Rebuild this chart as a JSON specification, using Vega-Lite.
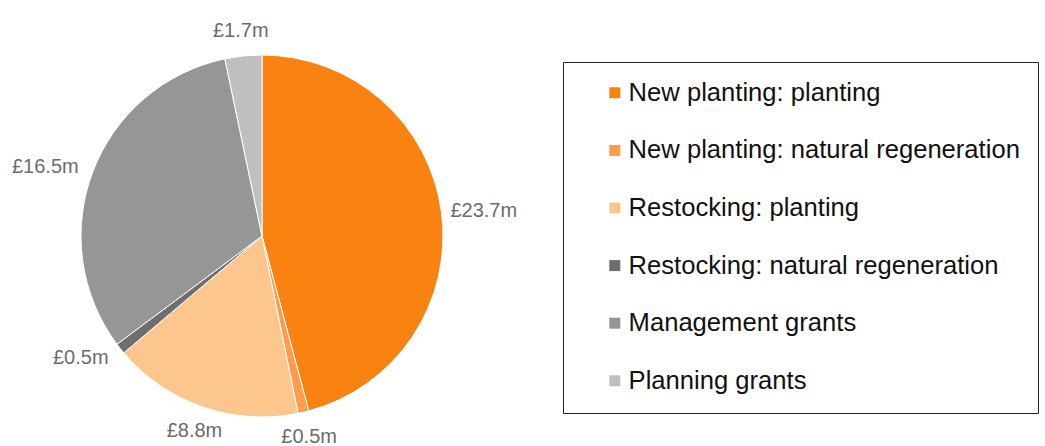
{
  "$schema": "https://vega.github.io/schema/vega-lite/v6.json",
  "width": 524,
  "height": 400,
  "autosize": {"type": "none"},
  "padding": {"left": 0, "top": 36, "right": 521, "bottom": 10},
  "background": "white",
  "config": {"view": {"stroke": null}, "font": "Liberation Sans"},
  "data": {
    "values": [
      {"category": "New planting: planting", "value": 23.7, "label": "£23.7m", "rank": 1, "side": "right"},
      {"category": "New planting: natural regeneration", "value": 0.5, "label": "£0.5m", "rank": 2, "side": "bottom"},
      {"category": "Restocking: planting", "value": 8.8, "label": "£8.8m", "rank": 3, "side": "bottom"},
      {"category": "Restocking: natural regeneration", "value": 0.5, "label": "£0.5m", "rank": 4, "side": "left"},
      {"category": "Management grants", "value": 16.5, "label": "£16.5m", "rank": 5, "side": "left"},
      {"category": "Planning grants", "value": 1.7, "label": "£1.7m", "rank": 6, "side": "top"}
    ]
  },
  "transform": [
    {"stack": "value", "groupby": [], "sort": [{"field": "rank", "order": "ascending"}], "as": ["v0", "v1"]},
    {"calculate": "(datum.v0 + datum.v1) / 2", "as": "vmid"}
  ],
  "layer": [
    {
      "mark": {"type": "arc", "outerRadius": 181, "stroke": "white", "strokeWidth": 1},
      "encoding": {
        "theta": {"field": "v0", "type": "quantitative", "scale": {"domain": [0, 51.7]}},
        "theta2": {"field": "v1"},
        "color": {
          "field": "category",
          "type": "nominal",
          "sort": ["New planting: planting", "New planting: natural regeneration", "Restocking: planting", "Restocking: natural regeneration", "Management grants", "Planning grants"],
          "scale": {
            "domain": ["New planting: planting", "New planting: natural regeneration", "Restocking: planting", "Restocking: natural regeneration", "Management grants", "Planning grants"],
            "range": ["#F98210", "#FB9D4C", "#FDC68D", "#6E6E6E", "#979696", "#BFBFBF"]
          },
          "legend": {
            "title": null,
            "orient": "none",
            "legendX": 563,
            "legendY": 26,
            "direction": "vertical",
            "strokeColor": "#222222",
            "fillColor": "white",
            "padding": 18,
            "symbolOffset": 21,
            "symbolType": "square",
            "symbolSize": 121,
            "symbolStrokeWidth": 0,
            "labelFontSize": 25.6,
            "labelFont": "Liberation Sans",
            "labelColor": "#111111",
            "labelLimit": 600,
            "labelOffset": 1,
            "rowPadding": 30.6,
            "encode": {"legend": {"update": {"strokeWidth": {"value": 1.5}}}}
          }
        }
      }
    },
    {
      "transform": [{"filter": "datum.side === 'right'"}],
      "mark": {"type": "text", "radius": 190, "align": "left", "fontSize": 20, "font": "Liberation Sans", "color": "#6b6b6b"},
      "encoding": {
        "theta": {"field": "vmid", "type": "quantitative", "scale": {"domain": [0, 51.7]}},
        "text": {"field": "label", "type": "nominal"}
      }
    },
    {
      "transform": [{"filter": "datum.side === 'left'"}],
      "mark": {"type": "text", "radius": 196, "align": "right", "fontSize": 20, "font": "Liberation Sans", "color": "#6b6b6b"},
      "encoding": {
        "theta": {"field": "vmid", "type": "quantitative", "scale": {"domain": [0, 51.7]}},
        "text": {"field": "label", "type": "nominal"}
      }
    },
    {
      "transform": [{"filter": "datum.side === 'top' || datum.side === 'bottom'"}],
      "mark": {"type": "text", "radius": 206, "align": "center", "fontSize": 20, "font": "Liberation Sans", "color": "#6b6b6b"},
      "encoding": {
        "theta": {"field": "vmid", "type": "quantitative", "scale": {"domain": [0, 51.7]}},
        "text": {"field": "label", "type": "nominal"}
      }
    }
  ]
}
